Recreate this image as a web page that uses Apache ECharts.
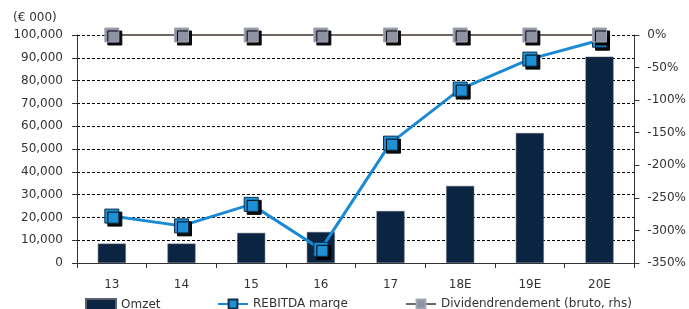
<!DOCTYPE html>
<html lang="nl">
<head>
    <meta charset="UTF-8">
    <title>Omzet en REBITDA marge</title>
    <script src="https://cdn.jsdelivr.net/npm/echarts/dist/echarts.min.js"></script>
    <style>
        body { margin: 0; padding: 0; background: #fff; }
        #chart { width: 689px; height: 309px; }
    </style>
</head>
<body>
    <div id="chart"></div>
    <script>
        // categorieën en waarden
        const jaren = ['13', '14', '15', '16', '17', '18E', '19E', '20E'];
        const omzet = [8500, 8500, 13200, 13600, 22800, 33800, 57000, 90500];   // € 000
        const rebitdaMarge = [-278, -293, -260, -329, -166, -83, -37, -8];    // %
        const dividendRendement = [0, 0, 0, 0, 0, 0, 0, 0];                   // %

        const font = 'DejaVu Sans';
        const tekst = '#333';

        const chart = echarts.init(document.getElementById('chart'));

        const markerShadow = {
            shadowColor: 'rgba(0,0,0,0.95)',
            shadowOffsetX: 3,
            shadowOffsetY: 3,
            shadowBlur: 0
        };

        const legendBase = {
            top: 293,
            itemWidth: 30,
            itemHeight: 11,
            itemGap: 4,
            textStyle: { fontFamily: font, fontSize: 12, color: tekst }
        };

        chart.setOption({
            animation: false,
            grid: { left: 77, right: 50, top: 35, bottom: 46 },
            title: {
                text: '(€ 000)',
                left: 8,
                top: 7,
                textStyle: { fontFamily: font, fontSize: 12, fontWeight: 'normal', color: tekst }
            },
            legend: [
                Object.assign({ left: 80, data: [{ name: 'Omzet', icon: 'rect' }] }, legendBase),
                Object.assign({ left: 212, data: ['REBITDA marge'] }, legendBase),
                Object.assign({ left: 400, data: ['Dividendrendement (bruto, rhs)'] }, legendBase)
            ],
            xAxis: {
                type: 'category',
                data: jaren,
                boundaryGap: true,
                axisLine: { lineStyle: { color: '#333', width: 1 } },
                axisTick: { show: true, length: 5, lineStyle: { color: '#333' } },
                axisLabel: { fontFamily: font, fontSize: 12, color: tekst, margin: 16 }
            },
            yAxis: [
                {
                    type: 'value',
                    min: 0,
                    max: 100000,
                    interval: 10000,
                    axisLine: { show: true, lineStyle: { color: '#333' } },
                    axisTick: { show: true, length: 5, lineStyle: { color: '#333' } },
                    axisLabel: {
                        fontFamily: font, fontSize: 12, color: tekst, margin: 14,
                        formatter: v => v.toLocaleString('en-US')
                    },
                    splitLine: { show: true, lineStyle: { color: '#000', type: [3, 2], width: 1 } }
                },
                {
                    type: 'value',
                    min: -350,
                    max: 0,
                    interval: 50,
                    position: 'right',
                    axisLine: { show: true, lineStyle: { color: '#333' } },
                    axisTick: { show: true, length: 5, lineStyle: { color: '#333' } },
                    axisLabel: {
                        fontFamily: font, fontSize: 12, color: tekst, margin: 13,
                        formatter: v => v + '%'
                    },
                    splitLine: { show: false }
                }
            ],
            series: [
                {
                    name: 'Omzet',
                    type: 'bar',
                    data: omzet,
                    barWidth: 28,
                    itemStyle: { color: '#0a2442', borderColor: '#5a6070', borderWidth: 0.5 }
                },
                {
                    name: 'REBITDA marge',
                    type: 'line',
                    yAxisIndex: 1,
                    data: rebitdaMarge,
                    symbol: 'rect',
                    symbolSize: 14,
                    lineStyle: { color: '#1a8ad4', width: 3 },
                    itemStyle: Object.assign({ color: '#1f8fd6', borderColor: '#0b3350', borderWidth: 1 }, markerShadow)
                },
                {
                    name: 'Dividendrendement (bruto, rhs)',
                    type: 'line',
                    yAxisIndex: 1,
                    data: dividendRendement,
                    symbol: 'rect',
                    symbolSize: 14,
                    lineStyle: { color: '#6f6661', width: 2 },
                    itemStyle: Object.assign({ color: '#8e92a2', borderColor: '#a3a7b4', borderWidth: 1 }, markerShadow)
                }
            ]
        });
    </script>
</body>
</html>
